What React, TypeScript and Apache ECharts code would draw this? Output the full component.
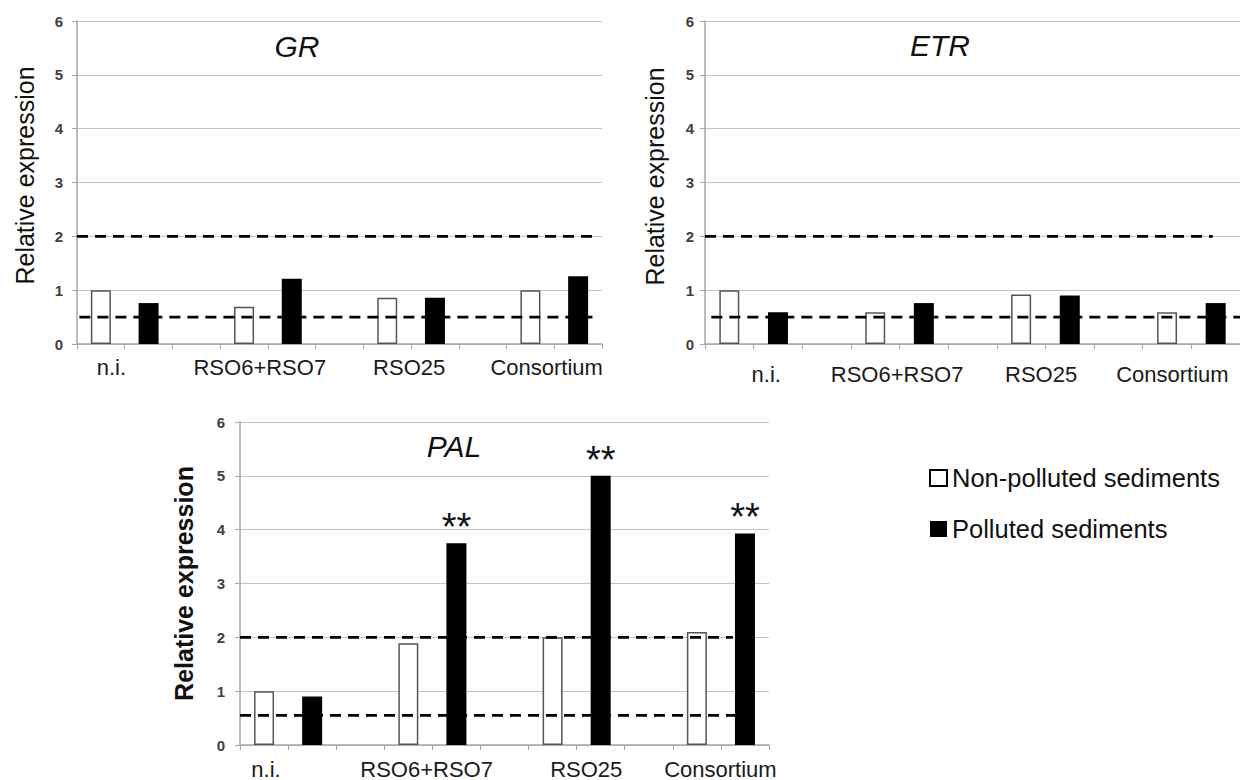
import React, { useEffect, useRef } from "react";
import * as echarts from "echarts";

// ---------- data ----------
const groups = ["n.i.", "RSO6+RSO7", "RSO25", "Consortium"];
const seriesNames = ["Non-polluted sediments", "Polluted sediments"];

const grNonPolluted = [1.0, 0.69, 0.86, 1.0];
const grPolluted = [0.76, 1.21, 0.86, 1.26];

const etrNonPolluted = [1.0, 0.59, 0.92, 0.59];
const etrPolluted = [0.59, 0.76, 0.9, 0.76];

const palNonPolluted = [1.0, 1.89, 2.0, 2.1];
const palPolluted = [0.9, 3.75, 5.0, 3.93];
const palSignificance = ["", "**", "**", "**"];

const upperThreshold = 2;
const grLowerThreshold = 0.5;
const etrLowerThreshold = 0.5;
const palLowerThreshold = 0.55;

const yMin = 0;
const yMax = 6;
const yStep = 1;

// ---------- layout ----------
const FONT = '"Liberation Sans", Arial, sans-serif';
const SLOT_COUNT = groups.length * 3 - 1;

const panels = [
  {
    title: "GR",
    nonPolluted: grNonPolluted,
    polluted: grPolluted,
    lower: grLowerThreshold,
    significance: null as string[] | null,
    grid: { left: 77, top: 21, width: 525, height: 323 },
    labelPos: [0.72, 3.83, 6.96, 9.84],
    labelMargin: 12,
    upperSpan: [0, 10.8],
    lowerSpan: [0.05, 10.8],
    titleXY: [297, 46],
    nameGap: 40,
    namePad: [0, 0, 0, 14],
    yLabelMargin: 14,
    nameBold: false,
  },
  {
    title: "ETR",
    nonPolluted: etrNonPolluted,
    polluted: etrPolluted,
    lower: etrLowerThreshold,
    significance: null as string[] | null,
    grid: { left: 705, top: 21, width: 546, height: 323 },
    labelPos: [1.26, 3.95, 6.91, 9.61],
    labelMargin: 19,
    upperSpan: [0, 10.44],
    lowerSpan: [0.13, 11],
    titleXY: [940, 45],
    nameGap: 38,
    namePad: [0, 0, 0, 12],
    yLabelMargin: 11,
    nameBold: false,
  },
  {
    title: "PAL",
    nonPolluted: palNonPolluted,
    polluted: palPolluted,
    lower: palLowerThreshold,
    significance: palSignificance,
    grid: { left: 240, top: 422, width: 529, height: 324 },
    labelPos: [0.54, 3.88, 7.2, 9.99],
    labelMargin: 13,
    upperSpan: [0, 10.25],
    lowerSpan: [0, 10.6],
    titleXY: [454, 446],
    nameGap: 44,
    namePad: [0, 0, 0, 0],
    yLabelMargin: 15,
    nameBold: true,
  },
];

function toSlots(values: number[], offset: number): (number | string)[] {
  const out: (number | string)[] = Array(SLOT_COUNT).fill("-");
  values.forEach((v, i) => {
    out[3 * i + offset] = v;
  });
  return out;
}

function buildOption() {
  const grid: any[] = [];
  const xAxis: any[] = [];
  const yAxis: any[] = [];
  const series: any[] = [];
  const graphic: any[] = [];
  const slots = Array.from({ length: SLOT_COUNT }, (_, i) => String(i));

  panels.forEach((p, i) => {
    grid.push({ ...p.grid, containLabel: false });
    xAxis.push({
      type: "category",
      gridIndex: i,
      data: slots,
      boundaryGap: true,
      axisLine: { show: true, lineStyle: { color: "#a6a6a6", width: 1.5 } },
      axisTick: { show: true, interval: 0, length: 5, lineStyle: { color: "#a6a6a6" } },
      axisLabel: { show: false },
      splitLine: { show: false },
    });
    xAxis.push({
      type: "value",
      gridIndex: i,
      min: 0,
      max: SLOT_COUNT,
      position: "bottom",
      axisLine: { show: false },
      axisTick: { show: false },
      splitLine: { show: false },
      axisLabel: {
        customValues: p.labelPos,
        formatter: (v: number) => {
          const idx = p.labelPos.findIndex((q) => Math.abs(q - v) < 1e-6);
          return idx >= 0 ? groups[idx] : "";
        },
        margin: p.labelMargin,
        fontSize: 22,
        fontFamily: FONT,
        color: "#1a1a1a",
      },
    });
    yAxis.push({
      type: "value",
      gridIndex: i,
      min: yMin,
      max: yMax,
      interval: yStep,
      axisLine: { show: true, lineStyle: { color: "#a6a6a6", width: 1.5 } },
      axisTick: { show: true, length: 5, lineStyle: { color: "#a6a6a6" } },
      splitLine: { show: true, lineStyle: { color: "#c4c4c4", width: 1.2 } },
      axisLabel: {
        fontSize: 15,
        fontWeight: "bold",
        fontFamily: FONT,
        color: "#404040",
        margin: p.yLabelMargin,
      },
      name: "Relative expression",
      nameLocation: "middle",
      nameGap: p.nameGap,
      nameTextStyle: {
        fontSize: 25,
        fontWeight: p.nameBold ? "bold" : "normal",
        fontFamily: FONT,
        color: "#111",
        padding: p.namePad,
      },
    });

    series.push({
      type: "bar",
      name: seriesNames[0],
      xAxisIndex: 2 * i,
      yAxisIndex: i,
      data: toSlots(p.nonPolluted, 0),
      barWidth: 20,
      barGap: "-100%",
      itemStyle: { color: "#ffffff", borderColor: "#555555", borderWidth: 1.5 },
    });
    const sig = p.significance;
    series.push({
      type: "bar",
      name: seriesNames[1],
      xAxisIndex: 2 * i,
      yAxisIndex: i,
      data: toSlots(p.polluted, 1),
      barWidth: 20,
      barGap: "-100%",
      itemStyle: { color: "#000000" },
      label: sig
        ? {
            show: true,
            position: "top",
            distance: -3,
            formatter: (pr: any) => sig[Math.floor(pr.dataIndex / 3)] || "",
            fontSize: 38,
            fontFamily: FONT,
            color: "#111",
          }
        : { show: false },
    });
    const dash = { color: "#000", width: 2.8, type: [11, 7] };
    series.push({
      type: "line",
      name: "upper-" + p.title,
      xAxisIndex: 2 * i + 1,
      yAxisIndex: i,
      data: [
        [p.upperSpan[0], upperThreshold],
        [p.upperSpan[1], upperThreshold],
      ],
      symbol: "none",
      lineStyle: dash,
      z: 5,
    });
    series.push({
      type: "line",
      name: "lower-" + p.title,
      xAxisIndex: 2 * i + 1,
      yAxisIndex: i,
      data: [
        [p.lowerSpan[0], p.lower],
        [p.lowerSpan[1], p.lower],
      ],
      symbol: "none",
      lineStyle: dash,
      z: 5,
    });

    graphic.push({
      type: "text",
      x: p.titleXY[0],
      y: p.titleXY[1],
      style: {
        text: p.title,
        fontSize: 30,
        fontStyle: "italic",
        fontFamily: FONT,
        fill: "#111",
        align: "center",
        verticalAlign: "middle",
      },
    });
  });

  return {
    animation: false,
    backgroundColor: "#ffffff",
    grid,
    xAxis,
    yAxis,
    series,
    graphic,
    legend: {
      orient: "vertical",
      left: 929,
      top: 465,
      padding: 0,
      itemWidth: 17,
      itemHeight: 16,
      itemGap: 25,
      icon: "rect",
      selectedMode: false,
      textStyle: { fontSize: 25.5, fontFamily: FONT, color: "#111", lineHeight: 25 },
      data: [
        { name: seriesNames[0], itemStyle: { color: "#ffffff", borderColor: "#000", borderWidth: 2 } },
        { name: seriesNames[1], itemStyle: { color: "#000000" } },
      ],
    },
  };
}

export default function App() {
  const ref = useRef<HTMLDivElement>(null);
  useEffect(() => {
    if (!ref.current) return;
    const chart = echarts.init(ref.current, undefined, { renderer: "svg" });
    chart.setOption(buildOption() as any);
    return () => chart.dispose();
  }, []);
  return (
    <div
      ref={ref}
      style={{ position: "fixed", left: 0, top: 0, width: 1240, height: 780, background: "#fff" }}
    />
  );
}
